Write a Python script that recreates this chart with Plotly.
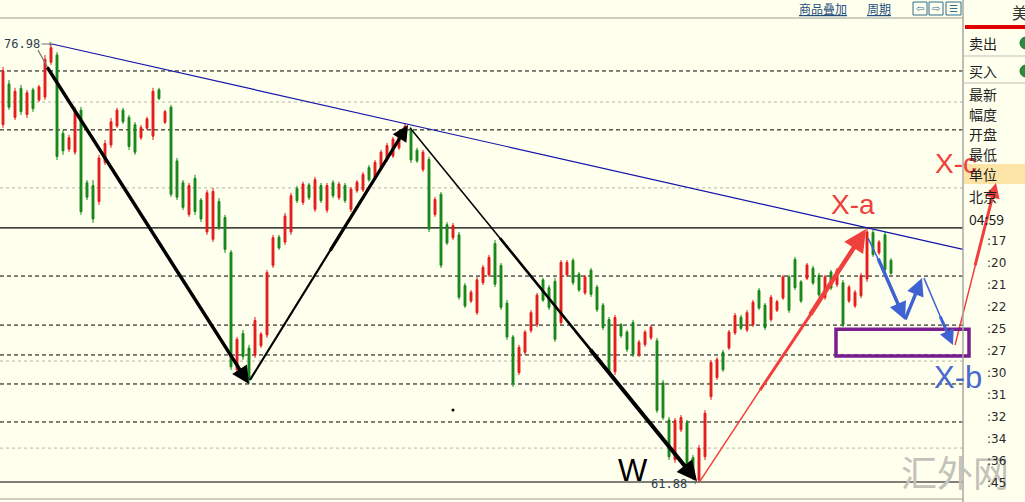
import plotly.graph_objects as go

# ---------------- data (bar order, left to right) ----------------
OPEN = [74.20, 75.60, 74.45, 75.45, 74.55, 75.40, 75.05, 75.15, 76.35, 76.60,
        73.90, 73.35, 73.25, 74.70, 72.20, 72.10, 71.55, 72.90, 73.50, 74.15,
        74.70, 74.45, 74.20, 73.75, 74.08, 73.80, 75.40, 74.28, 74.80, 72.95,
        72.20, 71.10, 72.35, 71.60, 70.50, 70.25, 71.55, 71.00, 69.80, 65.75,
        67.00, 66.50, 66.25, 66.58, 66.95, 69.35, 70.32, 70.15, 70.50, 72.00,
        71.52, 72.12, 71.28, 72.10, 71.25, 72.20, 71.68, 72.10, 71.28, 71.92,
        71.95, 72.72, 72.38, 72.72, 73.00, 73.12, 73.40, 73.75, 74.00, 73.32,
        72.65, 73.00, 71.10, 71.80, 70.75, 70.30, 70.40, 68.65, 68.12, 67.72,
        68.75, 69.02, 70.10, 69.35, 68.05, 66.88, 65.65, 66.35, 67.10, 67.30,
        68.85, 68.58, 68.80, 67.38, 69.02, 69.52, 69.05, 68.40, 69.18, 68.60,
        67.98, 67.48, 65.68, 67.30, 67.05, 67.38, 66.26, 66.62, 66.85, 66.75,
        65.30, 64.02, 62.65, 63.68, 63.92, 62.72, 61.95, 62.75, 64.82, 65.48,
        66.35, 66.50, 67.02, 67.56, 67.12, 67.30, 68.48, 67.98, 67.48, 67.80,
        68.22, 68.95, 69.55, 68.78, 68.90, 69.25, 69.00, 68.24, 69.12, 68.68,
        68.75, 68.12, 67.95, 68.30, 68.88, 70.48, 69.78, 70.40, 69.52]
HIGH = [76.19, 75.74, 75.47, 75.57, 75.40, 75.47, 75.57, 76.60, 76.98, 76.70,
        74.02, 73.85, 74.81, 74.81, 72.29, 72.29, 73.16, 73.67, 74.43, 74.78,
        74.78, 74.53, 74.29, 74.19, 74.47, 75.47, 75.47, 74.71, 74.88, 73.05,
        72.29, 72.19, 72.47, 71.67, 71.95, 72.02, 71.67, 71.09, 69.88, 66.88,
        67.12, 66.61, 67.57, 67.05, 69.19, 70.40, 70.40, 71.16, 71.85, 72.09,
        72.23, 72.19, 72.40, 72.19, 72.19, 72.29, 72.23, 72.19, 72.05, 72.29,
        72.57, 72.81, 72.98, 73.33, 73.57, 73.78, 74.02, 74.22, 74.09, 73.40,
        73.33, 73.09, 71.71, 71.88, 70.84, 70.81, 70.50, 68.74, 68.50, 68.95,
        69.36, 69.71, 70.22, 69.43, 68.16, 66.95, 66.61, 67.12, 67.81, 68.40,
        68.92, 68.67, 68.92, 69.53, 69.53, 69.60, 69.12, 69.02, 69.26, 68.67,
        68.05, 67.57, 67.64, 67.36, 67.12, 67.47, 66.78, 67.12, 67.29, 66.85,
        65.40, 64.12, 64.09, 64.19, 64.02, 62.81, 63.16, 64.36, 66.09, 66.19,
        66.43, 67.12, 67.71, 67.64, 67.81, 68.16, 68.57, 68.05, 68.33, 68.16,
        69.02, 69.02, 69.64, 68.84, 69.43, 69.33, 69.09, 69.02, 69.19, 69.26,
        68.84, 68.67, 68.50, 69.09, 70.64, 70.57, 70.22, 70.50, 69.60]
LOW = [74.09, 74.71, 74.36, 74.53, 74.43, 74.64, 74.98, 75.05, 76.26, 72.98,
       73.16, 73.26, 73.16, 71.09, 71.60, 70.81, 71.43, 72.81, 73.40, 74.09,
       74.22, 73.33, 73.16, 73.67, 74.02, 73.67, 75.05, 74.22, 71.71, 71.60,
       71.26, 71.02, 71.09, 70.84, 70.40, 70.15, 70.57, 69.78, 65.74, 65.64,
       66.09, 65.26, 66.16, 66.50, 66.85, 69.26, 69.88, 70.05, 70.40, 71.50,
       71.43, 71.60, 71.19, 71.50, 71.16, 71.67, 71.60, 71.50, 71.19, 71.85,
       71.88, 72.23, 72.29, 72.64, 72.92, 73.05, 73.33, 73.67, 72.88, 72.88,
       72.57, 70.50, 71.02, 69.26, 70.05, 70.22, 68.16, 67.88, 68.05, 67.64,
       68.67, 68.95, 68.60, 67.81, 66.78, 65.16, 65.57, 66.26, 67.02, 67.22,
       68.09, 67.81, 66.71, 67.29, 68.95, 68.67, 68.43, 68.33, 68.26, 67.74,
       67.12, 65.57, 65.57, 66.85, 66.36, 66.19, 66.19, 66.54, 66.78, 64.26,
       64.02, 62.64, 62.54, 63.60, 62.19, 61.95, 61.88, 62.64, 64.71, 65.40,
       65.68, 66.43, 66.95, 67.12, 67.05, 67.22, 67.81, 67.12, 67.40, 67.74,
       68.16, 67.71, 68.50, 68.05, 68.84, 68.67, 68.26, 68.16, 68.50, 68.60,
       67.22, 68.05, 67.88, 68.22, 68.78, 69.64, 69.71, 69.12, 69.02]
CLOSE = [76.05, 74.80, 75.35, 74.65, 75.30, 74.75, 75.50, 76.45, 76.85, 73.10,
         73.30, 73.75, 74.70, 71.20, 71.70, 70.95, 73.05, 73.55, 74.30, 74.70,
         74.30, 73.45, 73.25, 74.10, 74.40, 75.35, 75.10, 74.65, 71.80, 71.70,
         71.35, 72.10, 71.20, 70.95, 71.85, 71.90, 70.65, 69.90, 65.85, 66.80,
         66.20, 65.40, 67.45, 66.98, 69.10, 70.30, 69.95, 71.05, 71.75, 71.58,
         72.15, 71.68, 72.30, 71.58, 72.10, 71.75, 72.15, 71.58, 71.98, 72.22,
         72.48, 72.30, 72.90, 73.25, 73.48, 73.70, 73.95, 74.15, 72.98, 72.95,
         73.25, 70.60, 71.62, 69.35, 70.12, 70.72, 68.25, 67.95, 68.42, 68.85,
         69.28, 69.62, 68.70, 67.90, 66.88, 65.30, 66.52, 67.05, 67.72, 68.32,
         68.15, 67.90, 66.80, 69.45, 69.45, 68.75, 68.50, 68.95, 68.35, 67.82,
         67.20, 65.68, 67.55, 66.92, 66.45, 66.28, 66.70, 67.05, 67.22, 64.35,
         64.10, 62.75, 64.00, 64.10, 62.30, 62.02, 63.05, 64.25, 66.00, 66.10,
         65.75, 67.05, 67.62, 67.18, 67.72, 68.08, 67.88, 67.20, 68.25, 68.10,
         68.95, 67.80, 68.58, 68.12, 69.36, 68.74, 68.33, 68.95, 68.57, 69.18,
         67.30, 68.60, 68.42, 69.00, 70.50, 69.72, 70.15, 69.20, 69.08]

HIGH_MARK = (8.17, 76.98)     # (bar index, price)
LOW_MARK = (115.67, 61.88)
DASHED_LEVELS = [76.05, 74.02, 68.98, 67.29, 66.26, 65.26, 63.95]
DOTTED_LEVELS = [74.98, 72.02, 66.05, 63.05]
SOLID_LEVELS = [70.64, 61.88]
TREND_X = [8.17, 160.0]
TREND_Y = [76.98, 69.90]

# wave guide points (bar index, price); thin lead-in parts overlap the thick arrows
THIN_SEGS_X = [[5.83, 8.0], [41.17, 56.5], [67.83, 84.5], [82.83, 99.5],
               [116.17, 127.5], [126.17, 136.0], [158.67, 162.6],
               [144.17, 146.5], [153.5, 156.8]]
THIN_SEGS_Y = [[76.77, 75.97], [65.40, 70.52], [74.09, 69.86], [70.29, 66.04],
               [61.91, 65.47], [65.05, 68.09], [66.60, 69.79],
               [70.29, 69.29], [68.91, 67.30]]
ARROW_TAIL = [(7.33, 76.19), (54.5, 69.85), (97.83, 66.46), (134.5, 67.64),
              (162.0, 69.33), (145.83, 69.60), (150.33, 67.47), (156.17, 67.60)]
ARROW_TIP = [(41.0, 65.26), (67.5, 74.19), (115.67, 61.91), (143.83, 70.60),
             (165.5, 72.19), (150.33, 67.47), (153.17, 68.91), (158.33, 66.60)]
BOX_X = [138.83, 161.0]
BOX_Y = [66.22, 67.15]
DOT = (75.0, 64.36)

LABEL_XA = ("X-a", 141.67, 71.45)
LABEL_XC = ("X-c", 158.83, 72.85)
LABEL_XB = ("X-b", 159.17, 65.50)
LABEL_W = ("W", 105.0, 62.26)

PANEL_LABELS = ["卖出", "买入", "最新", "幅度", "开盘", "最低", "单位", "北京", "04:59"]
TIME_TICKS = [":17", ":20", ":21", ":22", ":25", ":27", ":30", ":31", ":32", ":34", ":36", ":45"]
TOOLBAR = ["商品叠加", "周期"]
WATERMARK = "汇外网"

# ---------------- style / layout ----------------
W, H = 1025, 502
BG = "#FFFFEE"
RED = "#E31B1B"
GREEN = "#17861A"
RED2 = "#F0403C"
BLUE2 = "#3F62D2"
BLUE_TXT = "#4A6AD0"
STEP, X0 = 6.0, 3.0
X_RANGE = [-X0 / STEP, (W - X0) / STEP]
Y_RANGE = [61.191, 78.497]
PLOT_R = 963 / W
CJK = "Noto Sans CJK SC"


def px(v):
    return v / W


def py(v):
    return 1 - v / H


N = len(CLOSE)
X = list(range(N))

fig = go.Figure()

fig.add_trace(go.Candlestick(
    x=X, open=OPEN, high=HIGH, low=LOW, close=CLOSE,
    increasing=dict(line=dict(color=RED, width=1), fillcolor=RED),
    decreasing=dict(line=dict(color=GREEN, width=1), fillcolor=GREEN),
    whiskerwidth=0, hoverinfo="skip", showlegend=False))

fig.add_trace(go.Scatter(x=TREND_X, y=TREND_Y, mode="lines",
                         line=dict(color="#1414A8", width=1.2),
                         hoverinfo="skip", showlegend=False))

seg_style = [("#777777", 1.2), ("black", 2.2), ("black", 1.5), ("black", 2.6),
             (RED2, 1.5), (RED2, 3.0), (RED2, 1.5), (BLUE2, 1.5), (BLUE2, 1.5)]
for sx, sy, (c, w) in zip(THIN_SEGS_X, THIN_SEGS_Y, seg_style):
    fig.add_trace(go.Scatter(x=sx, y=sy, mode="lines", line=dict(color=c, width=w),
                             hoverinfo="skip", showlegend=False))

fig.add_trace(go.Scatter(x=[DOT[0]], y=[DOT[1]], mode="markers",
                         marker=dict(color="black", size=3),
                         hoverinfo="skip", showlegend=False))

shapes = []
for lv in DASHED_LEVELS:
    shapes.append(dict(type="line", xref="paper", yref="y", x0=0, x1=PLOT_R, y0=lv, y1=lv,
                       line=dict(color="black", width=1, dash="4px,3px"), layer="below"))
for lv in DOTTED_LEVELS:
    shapes.append(dict(type="line", xref="paper", yref="y", x0=0, x1=PLOT_R, y0=lv, y1=lv,
                       line=dict(color="#B5B5A8", width=1, dash="dot"), layer="below"))
for lv in SOLID_LEVELS:
    shapes.append(dict(type="line", xref="paper", yref="y", x0=0, x1=PLOT_R, y0=lv, y1=lv,
                       line=dict(color="black", width=1.2), layer="below"))
# frame lines
for yy in (18, 499):
    shapes.append(dict(type="line", xref="paper", yref="paper", x0=0, x1=PLOT_R,
                       y0=py(yy), y1=py(yy), line=dict(color="#BDBDB0", width=1.5)))
# purple target box
shapes.append(dict(type="rect", xref="x", yref="y", x0=BOX_X[0], x1=BOX_X[1],
                   y0=BOX_Y[0], y1=BOX_Y[1], line=dict(color="#7A1E8E", width=3.5)))
# right panel
shapes.append(dict(type="rect", xref="paper", yref="paper", x0=px(964), x1=1.0,
                   y0=py(184), y1=py(164), fillcolor="#FBE4A6", line=dict(width=0), layer="below"))
shapes.append(dict(type="line", xref="paper", yref="paper", x0=PLOT_R, x1=PLOT_R,
                   y0=0, y1=1, line=dict(color="#A8A8A0", width=1.5)))
shapes.append(dict(type="rect", xref="paper", yref="paper", x0=px(965), x1=1.0,
                   y0=py(29), y1=py(25), fillcolor="#E00000", line=dict(width=0)))
for yy in (56, 83):
    shapes.append(dict(type="line", xref="paper", yref="paper", x0=PLOT_R, x1=1.0,
                       y0=py(yy), y1=py(yy), line=dict(color="#BEBEB4", width=1)))
for yy in (43, 71):
    shapes.append(dict(type="circle", xref="paper", yref="paper", x0=px(1020), x1=px(1032),
                       y0=py(yy + 6), y1=py(yy - 6), fillcolor="#2E8B3E",
                       line=dict(color="#1E6B2E", width=1)))
# toolbar icon boxes
for x0, x1 in ((913, 927), (929, 943), (946, 961)):
    shapes.append(dict(type="rect", xref="paper", yref="paper", x0=px(x0), x1=px(x1),
                       y0=py(15), y1=py(2), line=dict(color="#2F6F8F", width=1)))

annotations = []
for (tx, ty), (hx, hy), (c, w) in zip(
        ARROW_TAIL, ARROW_TIP,
        [("black", 3.5), ("black", 3.2), ("black", 4.0), (RED2, 4.5),
         (RED2, 3.0), (BLUE2, 3.5), (BLUE2, 3.5), (BLUE2, 3.0)]):
    annotations.append(dict(x=hx, y=hy, ax=tx, ay=ty, xref="x", yref="y", axref="x", ayref="y",
                            text="", showarrow=True, arrowhead=2, arrowsize=1.0,
                            arrowwidth=w, arrowcolor=c, standoff=0, borderpad=0,
                            font=dict(size=1)))

annotations.append(dict(x=HIGH_MARK[0], y=HIGH_MARK[1], xref="x", yref="y",
                        text=f"{HIGH_MARK[1]:.2f}", showarrow=True, ax=-30, ay=0,
                        arrowhead=1, arrowsize=0.8, arrowwidth=1, arrowcolor="#707070",
                        font=dict(family="DejaVu Sans Mono", size=12, color="#2E3E4E")))
annotations.append(dict(x=LOW_MARK[0], y=LOW_MARK[1], xref="x", yref="y",
                        text=f"{LOW_MARK[1]:.2f}", showarrow=True, ax=-28, ay=2,
                        arrowhead=1, arrowsize=0.8, arrowwidth=1, arrowcolor="#707070",
                        font=dict(family="DejaVu Sans Mono", size=12, color="#2E3E4E")))

for (t, x, y), col, sz in ((LABEL_XA, RED2, 28), (LABEL_XC, RED2, 28),
                           (LABEL_XB, BLUE_TXT, 31), (LABEL_W, "black", 31)):
    annotations.append(dict(x=x, y=y, xref="x", yref="y", text=t, showarrow=False,
                            xanchor="center", yanchor="middle",
                            font=dict(family="Liberation Sans", size=sz, color=col)))


def paper_text(t, x, y, size, color, family=CJK, xanchor="left", **fkw):
    return dict(x=px(x), y=py(y), xref="paper", yref="paper", text=t,
                xanchor=xanchor, yanchor="middle", showarrow=False,
                font=dict(family=family, size=size, color=color, **fkw))


annotations.append(paper_text(WATERMARK, 955, 471, 36, "#C2C2BA", xanchor="center"))

panel_y = [43, 71, 94, 114, 134, 154, 174, 196, 219]
for t, yy in zip(PANEL_LABELS, panel_y):
    annotations.append(paper_text(t, 967, yy, 14, "#1E1E1E"))
for k, t in enumerate(TIME_TICKS):
    annotations.append(paper_text(t, 985, 241 + 22 * k, 12, "#2A2A2A", family="DejaVu Sans"))
annotations.append(paper_text("美", 1010, 12, 16, "#333333"))
for t, xx in zip(TOOLBAR, (823, 879)):
    annotations.append(paper_text(t, xx, 9, 12, "#1F4F7F", xanchor="center",
                                  lineposition="under"))
for t, xx in (("⇦", 920), ("⇨", 936), ("☰", 953)):
    annotations.append(paper_text(t, xx, 8.5, 10, "#2F6F8F", family="DejaVu Sans",
                                  xanchor="center"))

fig.update_layout(
    width=W, height=H, margin=dict(l=0, r=0, t=0, b=0),
    paper_bgcolor=BG, plot_bgcolor="rgba(0,0,0,0)",
    boxgap=0.55,
    xaxis=dict(range=X_RANGE, domain=[0, 1], visible=False, fixedrange=True,
               rangeslider=dict(visible=False)),
    yaxis=dict(range=Y_RANGE, domain=[0, 1], visible=False, fixedrange=True),
    shapes=shapes, annotations=annotations, showlegend=False,
)

fig.write_html(
    "out.html",
    config={"displayModeBar": False},
    post_script="document.documentElement.style.margin='0';"
                "document.body.style.margin='0';document.body.style.padding='0';"
                "document.body.style.overflow='hidden';",
)
